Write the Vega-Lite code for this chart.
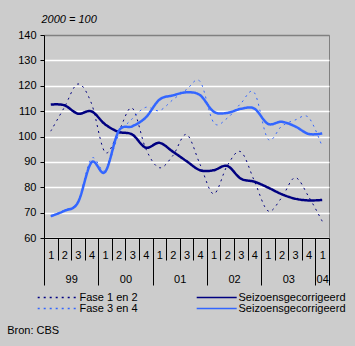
{
  "$schema": "https://vega.github.io/schema/vega-lite/v6.json",
  "width": 285,
  "height": 203,
  "autosize": {"type": "none"},
  "padding": {"left": 44, "top": 35, "right": 26, "bottom": 108},
  "background": "#cccccc",
  "config": {
    "view": {"stroke": "#808080", "strokeWidth": 1},
    "font": "Liberation Sans",
    "axis": {"labelFont": "Liberation Sans", "labelFontSize": 11, "labelColor": "#000000", "titleFont": "Liberation Sans", "titleFontSize": 11, "titleColor": "#000000", "titleFontWeight": "normal"}
  },
  "data": {"values": [
    {"q":0.5,"s":"Fase 1 en 2","v":102.1},{"q":1.5,"s":"Fase 1 en 2","v":111.5},{"q":2.5,"s":"Fase 1 en 2","v":120.7},{"q":3.5,"s":"Fase 1 en 2","v":113.0},{"q":4.5,"s":"Fase 1 en 2","v":93.8},{"q":5.5,"s":"Fase 1 en 2","v":102.0},{"q":6.5,"s":"Fase 1 en 2","v":111.2},{"q":7.5,"s":"Fase 1 en 2","v":95.2},{"q":8.5,"s":"Fase 1 en 2","v":87.7},{"q":9.5,"s":"Fase 1 en 2","v":92.5},{"q":10.5,"s":"Fase 1 en 2","v":100.8},{"q":11.5,"s":"Fase 1 en 2","v":89.0},{"q":12.5,"s":"Fase 1 en 2","v":77.4},{"q":13.5,"s":"Fase 1 en 2","v":88.5},{"q":14.5,"s":"Fase 1 en 2","v":94.0},{"q":15.5,"s":"Fase 1 en 2","v":82.5},{"q":16.5,"s":"Fase 1 en 2","v":70.7},{"q":17.5,"s":"Fase 1 en 2","v":75.8},{"q":18.5,"s":"Fase 1 en 2","v":83.8},{"q":19.5,"s":"Fase 1 en 2","v":76.3},{"q":20.5,"s":"Fase 1 en 2","v":66.6},
    {"q":0.5,"s":"Fase 3 en 4","v":68.6},{"q":1.5,"s":"Fase 3 en 4","v":71.0},{"q":2.5,"s":"Fase 3 en 4","v":74.5},{"q":3.5,"s":"Fase 3 en 4","v":91.4},{"q":4.5,"s":"Fase 3 en 4","v":86.5},{"q":5.5,"s":"Fase 3 en 4","v":100.5},{"q":6.5,"s":"Fase 3 en 4","v":107.0},{"q":7.5,"s":"Fase 3 en 4","v":111.5},{"q":8.5,"s":"Fase 3 en 4","v":110.2},{"q":9.5,"s":"Fase 3 en 4","v":114.5},{"q":10.5,"s":"Fase 3 en 4","v":118.5},{"q":11.5,"s":"Fase 3 en 4","v":121.7},{"q":12.5,"s":"Fase 3 en 4","v":105.5},{"q":13.5,"s":"Fase 3 en 4","v":107.2},{"q":14.5,"s":"Fase 3 en 4","v":113.0},{"q":15.5,"s":"Fase 3 en 4","v":117.3},{"q":16.5,"s":"Fase 3 en 4","v":99.0},{"q":17.5,"s":"Fase 3 en 4","v":104.0},{"q":18.5,"s":"Fase 3 en 4","v":106.5},{"q":19.5,"s":"Fase 3 en 4","v":107.5},{"q":20.5,"s":"Fase 3 en 4","v":96.0},
    {"q":0.5,"s":"Seizoensgecorrigeerd 1","v":112.6},{"q":1.5,"s":"Seizoensgecorrigeerd 1","v":112.3},{"q":2.5,"s":"Seizoensgecorrigeerd 1","v":109.0},{"q":3.5,"s":"Seizoensgecorrigeerd 1","v":109.9},{"q":4.5,"s":"Seizoensgecorrigeerd 1","v":104.8},{"q":5.5,"s":"Seizoensgecorrigeerd 1","v":101.8},{"q":6.5,"s":"Seizoensgecorrigeerd 1","v":100.8},{"q":7.5,"s":"Seizoensgecorrigeerd 1","v":95.6},{"q":8.5,"s":"Seizoensgecorrigeerd 1","v":97.5},{"q":9.5,"s":"Seizoensgecorrigeerd 1","v":94.0},{"q":10.5,"s":"Seizoensgecorrigeerd 1","v":90.3},{"q":11.5,"s":"Seizoensgecorrigeerd 1","v":86.7},{"q":12.5,"s":"Seizoensgecorrigeerd 1","v":86.7},{"q":13.5,"s":"Seizoensgecorrigeerd 1","v":88.4},{"q":14.5,"s":"Seizoensgecorrigeerd 1","v":83.4},{"q":15.5,"s":"Seizoensgecorrigeerd 1","v":82.2},{"q":16.5,"s":"Seizoensgecorrigeerd 1","v":79.9},{"q":17.5,"s":"Seizoensgecorrigeerd 1","v":77.3},{"q":18.5,"s":"Seizoensgecorrigeerd 1","v":75.5},{"q":19.5,"s":"Seizoensgecorrigeerd 1","v":74.8},{"q":20.5,"s":"Seizoensgecorrigeerd 1","v":75.0},
    {"q":0.5,"s":"Seizoensgecorrigeerd 2","v":68.6},{"q":1.5,"s":"Seizoensgecorrigeerd 2","v":70.7},{"q":2.5,"s":"Seizoensgecorrigeerd 2","v":74.0},{"q":3.5,"s":"Seizoensgecorrigeerd 2","v":89.8},{"q":4.5,"s":"Seizoensgecorrigeerd 2","v":86.0},{"q":5.5,"s":"Seizoensgecorrigeerd 2","v":102.1},{"q":6.5,"s":"Seizoensgecorrigeerd 2","v":104.0},{"q":7.5,"s":"Seizoensgecorrigeerd 2","v":107.5},{"q":8.5,"s":"Seizoensgecorrigeerd 2","v":114.5},{"q":9.5,"s":"Seizoensgecorrigeerd 2","v":116.2},{"q":10.5,"s":"Seizoensgecorrigeerd 2","v":117.4},{"q":11.5,"s":"Seizoensgecorrigeerd 2","v":116.3},{"q":12.5,"s":"Seizoensgecorrigeerd 2","v":109.8},{"q":13.5,"s":"Seizoensgecorrigeerd 2","v":109.3},{"q":14.5,"s":"Seizoensgecorrigeerd 2","v":110.9},{"q":15.5,"s":"Seizoensgecorrigeerd 2","v":111.0},{"q":16.5,"s":"Seizoensgecorrigeerd 2","v":105.0},{"q":17.5,"s":"Seizoensgecorrigeerd 2","v":105.8},{"q":18.5,"s":"Seizoensgecorrigeerd 2","v":104.0},{"q":19.5,"s":"Seizoensgecorrigeerd 2","v":101.0},{"q":20.5,"s":"Seizoensgecorrigeerd 2","v":101.2}
  ]},
  "layer": [
    {
      "mark": {"type": "line", "interpolate": "cardinal"},
      "encoding": {
        "x": {
          "field": "q", "type": "quantitative",
          "scale": {"domain": [0, 21], "nice": false, "zero": false},
          "axis": {
            "orient": "bottom",
            "values": [0,1,2,3,4,5,6,7,8,9,10,11,12,13,14,15,16,17,18,19,20,21],
            "labels": false,
            "tickSize": {"condition": {"test": "datum.value % 4 == 0 || datum.value == 21", "value": 47}, "value": 22},
            "tickColor": "#000000", "tickWidth": 1,
            "domainColor": "#000000", "domainWidth": 1,
            "grid": false, "title": null
          }
        },
        "y": {
          "field": "v", "type": "quantitative",
          "scale": {"domain": [60, 140], "nice": false, "zero": false},
          "axis": {
            "values": [60,70,80,90,100,110,120,130,140],
            "tickSize": 4, "labelPadding": 4,
            "tickColor": "#000000", "domainColor": "#000000",
            "grid": true,
            "gridColor": {"condition": {"test": "datum.value == 140", "value": "#808080"}, "value": "#ffffff"},
            "gridWidth": 1.5,
            "title": "2000 = 100", "titleAngle": 0, "titleAlign": "left", "titleBaseline": "alphabetic",
            "titleX": -3, "titleY": -12.5, "titleFontStyle": "italic"
          }
        },
        "color": {
          "field": "s", "type": "nominal",
          "scale": {"domain": ["Fase 1 en 2", "Fase 3 en 4", "Seizoensgecorrigeerd 1", "Seizoensgecorrigeerd 2"], "range": ["#000080", "#3366ff", "#000080", "#3366ff"]},
          "legend": {
            "orient": "none", "legendX": -6.3, "legendY": 256.5, "columns": 2, "direction": "vertical", "title": null,
            "symbolType": "M-4,0H4", "symbolSize": 100, "symbolStrokeWidth": 1.5, "symbolOffset": 14,
            "labelOffset": 15.8, "columnPadding": 56, "rowPadding": 0, "padding": 0,
            "labelFont": "Liberation Sans", "labelFontSize": 11, "labelColor": "#000000", "labelLimit": 200,
            "labelExpr": "indexof(datum.label, 'Seiz') == 0 ? 'Seizoensgecorrigeerd' : datum.label"
          }
        },
        "strokeDash": {
          "field": "s", "type": "nominal",
          "scale": {"domain": ["Fase 1 en 2", "Fase 3 en 4", "Seizoensgecorrigeerd 1", "Seizoensgecorrigeerd 2"], "range": [[2,4],[2,4],[1,0],[1,0]]},
          "legend": {
            "orient": "none", "legendX": -6.3, "legendY": 256.5, "columns": 2, "direction": "vertical", "title": null,
            "symbolType": "M-4,0H4", "symbolSize": 100, "symbolStrokeWidth": 1.5, "symbolOffset": 14,
            "labelOffset": 15.8, "columnPadding": 56, "rowPadding": 0, "padding": 0,
            "labelFont": "Liberation Sans", "labelFontSize": 11, "labelColor": "#000000", "labelLimit": 200,
            "labelExpr": "indexof(datum.label, 'Seiz') == 0 ? 'Seizoensgecorrigeerd' : datum.label"
          }
        },
        "strokeWidth": {"condition": {"test": "indexof(datum.s, 'Seiz') == 0", "value": 2.5}, "value": 1}
      }
    },
    {
      "mark": {"type": "point", "opacity": 0},
      "encoding": {
        "x": {
          "field": "q", "type": "quantitative",
          "axis": {
            "orient": "bottom",
            "values": [0.5,1.5,2.5,3.5,4.5,5.5,6.5,7.5,8.5,9.5,10.5,11.5,12.5,13.5,14.5,15.5,16.5,17.5,18.5,19.5,20.5],
            "ticks": false, "tickSize": 0, "domain": false, "grid": false,
            "labelExpr": "'' + ((floor(datum.value) % 4) + 1)",
            "labelPadding": 11, "labelFlush": false, "labelOverlap": false, "title": null
          }
        }
      }
    },
    {
      "mark": {"type": "point", "opacity": 0},
      "encoding": {
        "x": {
          "field": "q", "type": "quantitative",
          "axis": {
            "orient": "bottom",
            "values": [2, 6, 10, 14, 18, 20.5],
            "ticks": false, "tickSize": 0, "domain": false, "grid": false,
            "labelExpr": "datum.value == 20.5 ? '04' : (datum.value == 2 ? '99' : '0' + floor((datum.value - 6) / 4))",
            "labelPadding": 35, "labelFlush": false, "labelOverlap": false,
            "title": "Bron: CBS", "titleX": -37.3, "titleY": 95, "titleAlign": "left", "titleBaseline": "alphabetic", "titleAngle": 0
          }
        }
      }
    }
  ],
  "resolve": {"axis": {"x": "independent"}}
}
